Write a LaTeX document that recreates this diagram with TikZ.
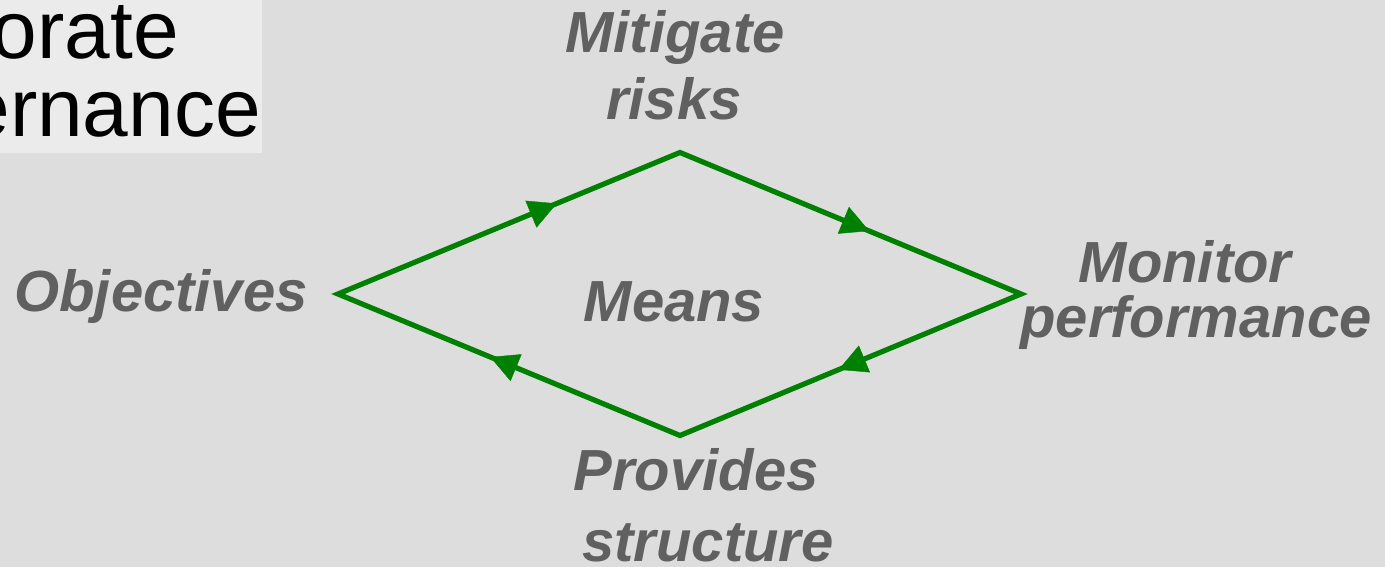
\documentclass[tikz,border=0pt]{standalone}
\usepackage{fontspec}
\setmainfont{Liberation Sans}
\usetikzlibrary{arrows.meta,decorations.markings}

\definecolor{pagebg}{RGB}{221,221,221}
\definecolor{titlebg}{RGB}{235,235,235}
\definecolor{labelgray}{RGB}{96,96,96}
\definecolor{loopgreen}{RGB}{0,128,0}

\tikzset{
  lbl/.style={anchor=base, inner sep=0pt, text=labelgray,
    font=\fontsize{58}{58}\selectfont\bfseries\itshape},
  ttl/.style={anchor=base east, inner sep=0pt, text=black,
    font=\fontsize{82}{82}\selectfont},
  loopline/.style={draw=loopgreen, line width=5.2pt, line join=miter},
  flowmark/.style={decorate, decoration={markings,
    mark=at position #1 with {\arrow[loopgreen]{Triangle[length=28pt,width=29pt]}}}},
}

\begin{document}
\begin{tikzpicture}[x=1pt,y=-1pt]
  \useasboundingbox (0,0) rectangle (1385,567);
  \clip (0,0) rectangle (1385,567);
  \fill[pagebg] (0,0) rectangle (1385,567);

  % title panel, partly outside the page
  \fill[titlebg] (0,0) rectangle (262,153);
  \node[ttl] (ttlA) at (179,59) {orate};
  \node[ttl] (ttlB) at (261,137) {ernance};

  % diamond corners
  \coordinate (L) at (338,294);
  \coordinate (T) at (680,152.5);
  \coordinate (R) at (1021,294);
  \coordinate (B) at (680,435.5);

  \path[loopline] (L) -- (T) -- (R) -- (B) -- cycle;
  \path[flowmark=0.64]  (L) -- (T);
  \path[flowmark=0.555] (T) -- (R);
  \path[flowmark=0.535] (R) -- (B);
  \path[flowmark=0.555] (B) -- (L);

  % labels
  \node[lbl] (mitA) at (675,53) {Mitigate};
  \node[lbl] (mitB) at (674,120) {risks};
  \node[lbl] (obj)  at (161,311) {Objectives};
  \node[lbl] (means) at (674,321) {Means};
  \node[lbl] (monA) at (1185,282) {Monitor};
  \node[lbl] (monB) at (1196,337) {performance};
  \node[lbl] (proA) at (696,490) {Provides};
  \node[lbl] (proB) at (708,561) {structure};
\end{tikzpicture}
\end{document}
